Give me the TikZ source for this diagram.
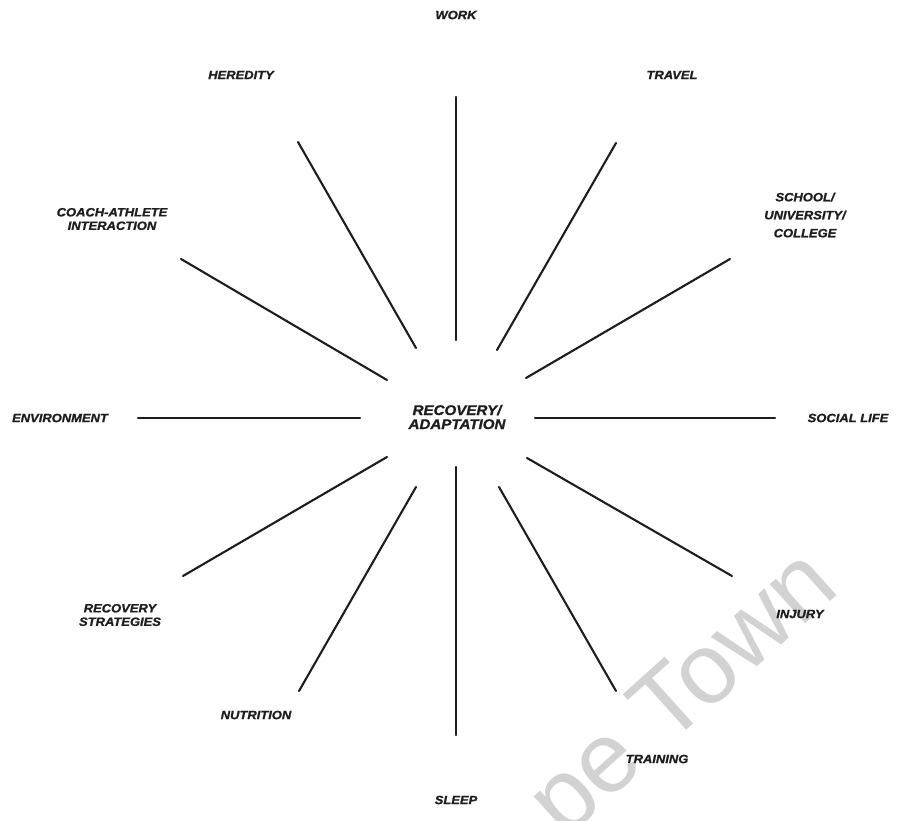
\documentclass[tikz,border=0pt]{standalone}
\usepackage{fontspec}
\newfontfamily\labfont[FakeStretch=1.08,FakeBold=1.2]{Liberation Sans}
\newfontfamily\wmfont{Liberation Sans}
\definecolor{ink}{HTML}{1E1E1E}
\definecolor{wmgray}{HTML}{D2D2D2}
\begin{document}
\begin{tikzpicture}[x=1pt,y=-1pt,
  lab/.style={font=\labfont\bfseries\itshape\fontsize{12}{13.5}\selectfont, text=ink, align=center, inner sep=0pt},
  ctr/.style={font=\labfont\bfseries\itshape\fontsize{14}{14}\selectfont, text=ink, align=center, inner sep=0pt},
  spoke/.style={draw=ink, line width=2.1pt, line cap=round}]
\useasboundingbox (0,0) rectangle (905,821);
\fill[white] (0,0) rectangle (905,821);
\begin{scope}
\clip (0,0) rectangle (905,821);
\node[font=\wmfont\fontsize{100}{100}\selectfont, text=wmgray, rotate=42, anchor=base, inner sep=0pt] (wm) at (703,716) {pe Town};
\end{scope}

% labels
\node[ctr] (c) at (457,417) {RECOVERY/\\ADAPTATION};
\node[lab] (work) at (456,15) {WORK};
\node[lab] (hered) at (241,75) {HEREDITY};
\node[lab] (travel) at (672,75) {TRAVEL};
\node[lab] (coach) at (112,219) {COACH-ATHLETE\\INTERACTION};
\node[lab, font=\labfont\bfseries\itshape\fontsize{12}{18}\selectfont] (school) at (805,215) {SCHOOL/\\UNIVERSITY/\\COLLEGE};
\node[lab] (env) at (60,418) {ENVIRONMENT};
\node[lab] (social) at (848,418) {SOCIAL LIFE};
\node[lab] (recstr) at (120,615) {RECOVERY\\STRATEGIES};
\node[lab] (injury) at (800,614) {INJURY};
\node[lab] (nutr) at (256,715) {NUTRITION};
\node[lab] (train) at (657,759) {TRAINING};
\node[lab] (sleep) at (456,800) {SLEEP};

% spoke end points
\coordinate (workI) at (456,340);   \coordinate (workO) at (456,97);
\coordinate (sleepI) at (456,467);  \coordinate (sleepO) at (456,735);
\coordinate (envI) at (360,418);    \coordinate (envO) at (138,418);
\coordinate (socI) at (535,418);    \coordinate (socO) at (775,418);
\coordinate (herI) at (416,348);    \coordinate (herO) at (298,142);
\coordinate (traI) at (497,350);    \coordinate (traO) at (616,143);
\coordinate (coaI) at (387,380);    \coordinate (coaO) at (181,259);
\coordinate (schI) at (526,378);    \coordinate (schO) at (730,259);
\coordinate (rstI) at (387,457);    \coordinate (rstO) at (183,576);
\coordinate (injI) at (527,458);    \coordinate (injO) at (732,576);
\coordinate (nutI) at (416,487);    \coordinate (nutO) at (299,691);
\coordinate (trnI) at (499,487);    \coordinate (trnO) at (616,691);

\foreach \s in {work,sleep,env,soc,her,tra,coa,sch,rst,inj,nut,trn}
  \draw[spoke] (\s I) -- (\s O);
\end{tikzpicture}
\end{document}
